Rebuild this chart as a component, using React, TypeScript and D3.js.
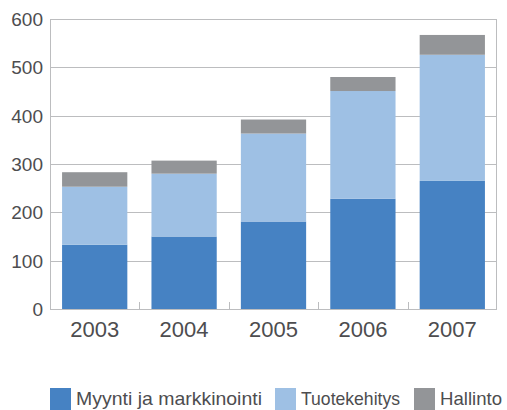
import { useEffect, useRef } from 'react';
import * as d3 from 'd3';

const years = ['2003', '2004', '2005', '2006', '2007'];
const myynti = [133, 150, 181, 228, 265];
const tuotekehitys = [120, 130, 182, 223, 261];
const hallinto = [30, 27, 29, 29, 41];
const seriesNames = ['Myynti ja markkinointi', 'Tuotekehitys', 'Hallinto'];
const colors = ['#4682c3', '#9ec0e4', '#939598'];
const yTicks = [0, 100, 200, 300, 400, 500, 600];

const App = () => {
  const svgRef = useRef<SVGSVGElement>(null);
  const width = 507;
  const height = 410;
  const margin = { top: 19, right: 10, bottom: 101, left: 50 };

  useEffect(() => {
    if (!svgRef.current) return;
    const svg = d3.select(svgRef.current);
    svg.selectAll('*').remove();

    const font = '"Liberation Sans", Arial, sans-serif';
    const innerW = width - margin.left - margin.right;
    const innerH = height - margin.top - margin.bottom;

    const rows = years.map((y, i) => ({
      year: y,
      s0: myynti[i],
      s1: tuotekehitys[i],
      s2: hallinto[i],
    }));
    const stacked = d3.stack<any>().keys(['s0', 's1', 's2'])(rows);

    const x = d3.scaleBand()
      .domain(years)
      .range([0, innerW])
      .paddingInner(0.27)
      .paddingOuter(0.135);

    const y = d3.scaleLinear().domain([0, 600]).range([innerH, 0]);

    const g = svg.append('g')
      .attr('transform', `translate(${margin.left},${margin.top})`);

    // grid
    g.selectAll('.grid')
      .data(yTicks)
      .enter()
      .append('line')
      .attr('x1', 0)
      .attr('x2', innerW)
      .attr('y1', d => Math.round(y(d)) + 0.5)
      .attr('y2', d => Math.round(y(d)) + 0.5)
      .attr('stroke', '#bcbdbf')
      .attr('stroke-width', 1);

    // frame sides
    g.append('line')
      .attr('x1', 0.5).attr('x2', 0.5)
      .attr('y1', 0).attr('y2', innerH)
      .attr('stroke', '#bcbdbf');
    g.append('line')
      .attr('x1', innerW - 0.5).attr('x2', innerW - 0.5)
      .attr('y1', 0).attr('y2', innerH)
      .attr('stroke', '#bcbdbf');

    // category separator ticks
    const step = x.step();
    d3.range(1, years.length).forEach(i => {
      const xx = Math.round(i * step) + 0.5;
      g.append('line')
        .attr('x1', xx).attr('x2', xx)
        .attr('y1', innerH - 7).attr('y2', innerH)
        .attr('stroke', '#bcbdbf');
    });

    // bars
    stacked.forEach((layer, si) => {
      g.selectAll(`.bar${si}`)
        .data(layer)
        .enter()
        .append('rect')
        .attr('x', (d: any) => x(d.data.year)!)
        .attr('width', x.bandwidth())
        .attr('y', (d: any) => y(d[1]))
        .attr('height', (d: any) => y(d[0]) - y(d[1]))
        .attr('fill', colors[si]);
    });

    // y labels
    g.selectAll('.ylab')
      .data(yTicks)
      .enter()
      .append('text')
      .attr('x', -7)
      .attr('y', d => y(d))
      .attr('dy', '0.36em')
      .attr('text-anchor', 'end')
      .attr('font-family', font)
      .attr('font-size', 19)
      .attr('fill', '#4d4d4f')
      .text(d => d);

    // x labels
    g.selectAll('.xlab')
      .data(years)
      .enter()
      .append('text')
      .attr('x', d => x(d)! + x.bandwidth() / 2)
      .attr('y', innerH + 28)
      .attr('text-anchor', 'middle')
      .attr('font-family', font)
      .attr('font-size', 22)
      .attr('fill', '#4d4d4f')
      .text(d => d);

    // legend
    const legendX = [50, 275, 414];
    const legendW = [186, 99, 62];
    const legend = svg.append('g');
    seriesNames.forEach((name, i) => {
      legend.append('rect')
        .attr('x', legendX[i])
        .attr('y', 388)
        .attr('width', 21)
        .attr('height', 22)
        .attr('fill', colors[i]);
      legend.append('text')
        .attr('x', legendX[i] + 26)
        .attr('y', 405)
        .attr('font-family', font)
        .attr('font-size', 19)
        .attr('textLength', legendW[i])
        .attr('lengthAdjust', 'spacingAndGlyphs')
        .attr('fill', '#4d4d4f')
        .text(name);
    });
  }, []);

  return (
    <svg
      ref={svgRef}
      width={width}
      height={height}
      style={{ position: 'absolute', left: 0, top: 0 }}
    />
  );
};

export default App;
